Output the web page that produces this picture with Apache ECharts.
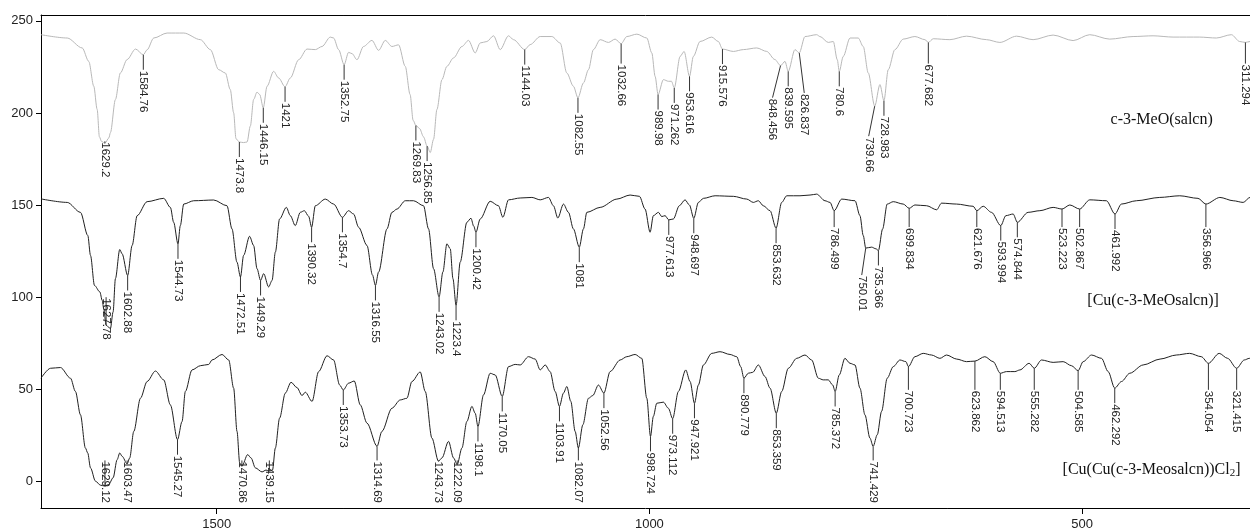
<!DOCTYPE html>
<html>
<head>
<meta charset="utf-8">
<title>IR spectra</title>
<script src="https://cdn.jsdelivr.net/npm/echarts@6/dist/echarts.min.js"></script>
<style>
  html, body { margin: 0; padding: 0; background: #ffffff; }
  #chart { width: 1250px; height: 531px; }
</style>
</head>
<body>
<div id="chart"></div>
<script>
// ---- spectra: [wavenumber (cm-1), signal] ----
const ligandSpectrum = [
  [1703,242.5],[1672.7,240.7],[1655.4,235.3],[1647.8,228],[1642,214.5],[1638.1,201.9],[1635.5,187],[1633,184.5],
  [1624.5,186.5],[1622.8,189.3],[1617,207.3],[1611.3,221.7],[1603.5,229],[1593.8,234.7],
  [1580.4,234.3],[1572.7,240.7],[1557.3,243.4],[1538,243.4],[1518.8,239.8],[1507.3,234.4],[1497.7,223.5],[1490,221.7],[1484.3,212.7],[1480.4,200.1],[1477.7,186],
  [1469,183.9],[1464.9,184.2],[1461.1,192.9],[1457.3,207.3],[1453.4,211.3],[1450.3,210],
  [1441.8,214.5],[1434.2,222.6],[1428.4,219],
  [1414.9,219],[1405.3,228.9],[1395.6,234.7],[1386,234.4],[1378.3,236.1],[1368.7,241.2],[1364.9,240.7],[1359.1,234.4],
  [1347.6,232.9],[1343.6,232.2],[1337.9,228.9],[1330.3,236.1],[1320.6,239.4],[1312.9,234],[1305.2,239.4],[1297.5,236.1],[1289.8,237],[1282.1,225.3],[1276.5,210],[1273,196],
  [1265.5,191.5],[1261,187],
  [1253.2,178.5],[1249.4,185.7],[1245.5,201.9],[1239.7,218.1],[1234,225.3],[1226.3,229.9],[1216.6,236.1],[1209,239.4],[1201.3,232.6],[1195.5,238],[1187.8,238.8],[1180.1,241.9],[1172.4,234.4],[1162.8,241.9],[1157,239.8],
  [1137.8,237.1],[1126.2,241.5],[1112.7,241.5],[1103.1,238],[1095.4,221.7],[1087.8,214.5],
  [1076.2,216.3],[1070.4,223.5],[1064.7,234.4],[1056.9,239.8],[1047.3,238.3],[1039.6,240.1],
  [1026.1,241.5],[1014.5,242.8],[1003,240.7],[997.2,232.6],[993.4,219.9],
  [983.8,218.1],[978.1,217.2],[974.5,217.2],
  [964.5,230.7],[959.9,233.4],
  [949.2,230.7],[941.5,238.8],[928,241.2],[920.3,238.8],
  [903,233.4],[891.5,234.4],[876,235.3],[864.4,233.4],[855,229],
  [843.3,228],
  [831.8,234.4],
  [820.2,241.5],[806.7,242.5],[802.9,241.5],[793.3,238.3],[787.5,238.8],[782.9,228.9],
  [776,230.7],[768.2,240.7],[758.7,240.7],[752.9,236.1],[747.1,221.7],
  [733.6,215.4],
  [724,223.5],[716.3,234.4],[706.7,240.1],[693.2,241.5],[681.6,239.8],
  [672,240.3],[652.8,239.8],[633.5,241.7],[610.4,239.8],[595,238.3],[575.8,241.7],[556.6,239.8],[533.5,242.3],[510.4,239.3],[491.2,242.5],[468.1,240.1],[441.1,241.5],[418,241.9],[394.9,241.2],[364.1,241.2],[344.9,240.7],[327.5,242.5],[317.9,238.8],
  [306,238.8],[300,239]
];
const ligandPeaks = [
  ['1629.2',183.5],['1584.76',231.6],['1473.8',184.2],['1446.15',202.8],['1421',214.2],['1352.75',226.2],
  ['1269.83',193.2],['1256.85',182],['1144.03',234.4],['1082.55',208.2],['1032.66',237.6],['989.98',210],
  ['971.262',213.6],['953.616',219.9],['915.576',234.7],['848.456',225.7],['839.595',222.6],['826.837',232.6],
  ['780.6',222.6],['739.66',203.7],['728.983',206.6],['677.682',238.3],['311.294',238.3]
];

const cuSpectrum = [
  [1703,153.3],[1672.7,151.4],[1657.4,146],[1648.9,133.4],[1645.8,122.6],[1641.2,106.3],[1635,102.8],[1632.3,98.2],[1630.5,93.7],
  [1622.8,82.9],[1619.7,91.9],[1617,110],[1612,125.8],[1609.3,123.5],
  [1597.7,128],[1591.9,144.2],[1580.4,151.8],[1561.2,153.6],[1553.5,148.7],[1549.7,140.6],
  [1542,138.8],[1538.1,150.5],[1526.6,152.3],[1503.5,152.7],[1488.1,149.6],[1482.3,137],[1476.6,119],
  [1468.9,122.6],[1462,133],[1457.3,128],[1453.4,115.4],
  [1445.7,112.7],[1440,105.5],[1436,109],[1432.2,124.4],[1427.3,142.4],[1419.5,148.7],[1414.9,144.2],[1409.2,138.8],[1403.4,146],[1398.7,146.9],[1393.8,143.9],
  [1386,149.6],[1374.5,153.2],[1364.9,150.5],
  [1347.6,146.9],[1341.8,145.1],[1336,137.9],[1326.3,128],[1320,112],
  [1312.9,113.6],[1303.2,137],[1297.5,146],[1291.7,147.8],[1282.1,152.3],[1272.5,152.3],[1261,149.6],[1255.2,137],[1249.4,115.4],
  [1238.6,113.6],[1234,128.9],[1230.1,126.2],[1227,110],
  [1218.6,119],[1210.9,140.6],[1206.2,142.8],[1203,138.5],
  [1195.5,142.4],[1184,152],[1174.4,149.6],[1169.3,143.3],[1162.8,152.8],[1149.3,153.8],[1135.8,154.1],[1126.2,152.8],[1116.6,154.1],[1110.9,149.6],[1105.8,142.9],[1099.3,150.5],[1093.5,146],[1087.8,137],
  [1076.2,137],[1072.3,146],[1056.9,148.7],[1037.6,153.2],[1022.3,155.4],[1011.5,154.7],[1005,147.8],[999.2,135.2],[995.4,144.2],[989.6,146],[985.7,143.7],[981.9,144.2],
  [972.3,142.4],[965.4,149.6],[958.8,152.8],[953.8,150],
  [943.4,151.4],[937.6,153.6],[924.1,155],[903,154.7],[887.5,153.2],[879.9,151.4],[874.1,152.3],[868.4,149.6],[860.6,146.9],
  [847.1,151.4],[841.3,155],[826,155],[814.4,155.4],[806.7,155.9],[797.1,152.3],[791.3,151.4],
  [777.8,153.2],[762.4,152.3],[756.7,144.2],[752.9,133.4],
  [743.2,127.1],[738.3,126.2],
  [730.5,137],[725.2,150.5],[718.2,151.8],[706.7,150.5],
  [693.2,150],[679.7,149.6],[668.1,147.4],[662.4,151],[645,150.5],[625.9,149.3],
  [614.3,149.3],[604.7,146],
  [588.1,144.2],[579.7,145.1],
  [562.4,146],[548.8,146.9],[533.5,148.7],
  [514.2,150],
  [491.1,152.8],[471.9,152.3],
  [454.6,150.5],[437.3,152.3],[410.3,154.1],[387.2,155],[366.1,153.6],
  [340.8,154.1],[325.4,152.3],[313.9,151.4],[306,154.1],[300,153.5]
];
const cuPeaks = [
  ['1627.78',84.7],['1602.88',111.7],['1544.73',128.9],['1472.51',110.9],['1449.29',109],['1390.32',137.9],
  ['1354.7',143.3],['1316.55',106.3],['1243.02',100.1],['1223.4',95.5],['1200.42',135.2],['1081',127.1],
  ['977.613',141.9],['948.697',142.8],['853.632',137.4],['786.499',146.9],['750.01',126.6],['735.366',125.3],
  ['699.834',148.2],['621.676',146.9],['593.994',138.8],['574.844',140.6],['523.223',147.8],['502.867',147.8],
  ['461.992',145.1],['356.966',150.5]
];

const cuClSpectrum = [
  [1703,55.9],[1692,61.3],[1680.5,61.7],[1668.9,55.9],[1663.2,48.7],[1657.4,36],[1651.7,18],[1649,15.3],[1645.8,7.2],[1640.1,0],[1634.3,-2.2],
  [1624.7,-1.8],[1619.7,1.8],[1615,11.7],[1612,15.3],[1609.3,13.5],
  [1600.5,12.6],[1595.8,27],[1588.1,45],[1580.4,54.1],[1570.8,59.8],[1561.2,55],[1553.5,41.4],
  [1540,32.4],[1536.2,48.7],[1528.5,60.4],[1518.8,62.7],[1509.2,63.4],[1505.4,65.8],[1493.8,68.8],[1486.1,65.8],[1480.4,50.5],[1476.5,27],[1473.4,9.9],
  [1464.2,14.4],[1460.3,12.6],[1455.3,7.2],[1447.6,5],[1443,6],
  [1435.5,6],[1432.2,18],[1427.3,34.2],[1420.7,47.8],[1414.1,53.7],[1407.2,50.8],[1401.4,46.5],[1397.6,48.3],[1389.8,43.3],[1382.2,59.5],[1372.5,68.1],[1364.9,65.8],[1357.9,52.2],
  [1347.6,53.2],[1341,54.4],[1334.1,41.4],[1326.3,31.5],
  [1309.1,27],[1297.5,39.6],[1287.9,44.1],[1280.2,45],[1274.4,54.1],[1264.8,59.3],[1259,48.7],[1251.3,23.4],
  [1239.7,12.6],[1232.1,21.6],[1226.3,12.6],
  [1216.6,18],[1210.9,32.4],[1205.1,40.6],[1201.3,36.9],
  [1191.7,46.8],[1184,58.6],[1178.2,57.7],
  [1162.8,62.2],[1155.1,63.4],[1149.3,63.1],[1139.7,67.6],[1132,66.3],[1126.2,60.4],[1120.4,63.1],[1114.7,59.5],[1108.9,48.7],
  [1099.3,47.8],[1095.4,51.4],[1090.8,43.3],[1085.8,27],
  [1076.9,30.6],[1070.4,45],[1065.4,46.5],[1058.9,52.2],
  [1045.4,59.5],[1033.8,65.8],[1026.1,67.6],[1016.5,68.8],[1008.8,66.7],[1003,45],
  [995.4,35.2],[991.5,42.3],[983.8,42.9],[978.1,39.6],
  [966.5,48.7],[958,60.4],[953,54.1],
  [943.4,52.2],[937.6,63.1],[928,69.4],[918.4,70.3],[906.8,68.8],[899.1,67.6],[894.5,62.2],
  [885.7,58.6],[880.6,59.1],[874.1,63.1],[866.4,56.8],[860.6,50.5],
  [847.1,48.7],[839.5,61.3],[829.8,66.7],[820.2,68.5],[812.5,65.8],[804.8,55.9],[799.1,55],[793.3,55],[788.2,52.2],
  [780.6,57.7],[774.1,66.7],[768.2,64],[762.4,63.1],[756.7,50.5],[750.9,36],[745.2,23.4],
  [736.7,25.2],[731.7,37.9],[725.2,55.9],[718.2,62.2],[710.5,65.8],[703.6,64.9],
  [693.2,67.6],[683.6,69.4],[673.9,68.5],[664.3,66.7],[656.6,68.5],[645,66.3],[633.5,64.9],
  [612.4,67.6],[602.8,64.9],
  [587.3,59.5],[577.7,59.5],[571.9,60.4],[561.2,64],
  [546.9,65.8],[533.5,64.5],[521.9,64.9],[512.3,62.7],
  [498.8,64.9],[489.1,68.5],[477.6,66.7],[469.9,59.5],
  [454.5,54.1],[444.9,58.6],[429.5,63.1],[409.9,66.3],[391.2,68.5],[375.8,69.4],[362.3,67.6],
  [341.6,69.4],[331.9,66.7],
  [312.6,65.8],[306.8,66.7],[300,66]
];
const cuClPeaks = [
  ['1629.12',-2.7],['1603.47',9.4],['1545.27',22.5],['1470.86',8.1],['1439.15',5.5],['1353.73',49.5],
  ['1314.69',18.9],['1243.73',10.8],['1222.09',9],['1198.1',29.7],['1170.05',46],['1103.91',40.6],
  ['1082.07',18],['1052.56',47.8],['998.724',24.3],['973.112',33.9],['947.921',42.3],['890.779',55.9],
  ['853.359',36.9],['785.372',48.7],['741.429',18.9],['700.723',62.2],['623.862',65.2],['594.513',58.6],
  ['555.282',61.3],['504.585',60],['462.292',50.5],['354.054',64],['321.415',61.3]
];

// ---- axes ----
const xTicks = [1500, 1000, 500];
const yTicks = [0, 50, 100, 150, 200, 250];
const sampleNames = ['c-3-MeO(salcn)', '[Cu(c-3-MeOsalcn)]', '[Cu(Cu(c-3-Meosalcn))Cl{sub|2}]'];

// ---- drawing ----
const LABEL_FONT = '11.5px "Liberation Sans", Arial, sans-serif';
const measureCtx = document.createElement('canvas').getContext('2d');
measureCtx.font = LABEL_FONT;
const textLen = t => measureCtx.measureText(t).width;

// per-trace layout of the peak tags
const traces = [
  { spectrum: ligandSpectrum, peaks: ligandPeaks, color: '#b8b8b8', tagLevel: 226.8,
    shift: { '1629.2': [0, -17], '848.456': [-8, 17], '826.837': [5, 25], '739.66': [-6, 15] },
    nameAt: [349, 196.4] },
  { spectrum: cuSpectrum, peaks: cuPeaks, color: '#202020', tagLevel: 138,
    shift: { '1627.78': [0, -43], '750.01': [-4, 12] },
    nameAt: [342, 98.2] },
  { spectrum: cuClSpectrum, peaks: cuClPeaks, color: '#202020', tagLevel: 49.6,
    shift: {},
    nameAt: [317, 6.3] }
];

const TAG_GAP = 15;

function mergedData(t) {
  return t.spectrum
    .concat(t.peaks.map(p => [parseFloat(p[0]), p[1]]))
    .sort((a, b) => b[0] - a[0]);
}

function tagRenderer(t) {
  return function (params, api) {
    const [lab, val] = t.peaks[params.dataIndex];
    const wn = parseFloat(lab);
    const p = api.coord([wn, val]);
    const level = api.coord([wn, t.tagLevel])[1];
    const cs = params.coordSys;
    const plotBottom = cs.y + cs.height;
    const s = t.shift[lab] || [0, 0];
    let endY = Math.max(p[1] + TAG_GAP, level) + s[1];
    endY = Math.min(endY, plotBottom - textLen(lab) - 6);
    const endX = p[0] + s[0];
    return {
      type: 'group',
      children: [
        { type: 'line', shape: { x1: p[0], y1: p[1], x2: endX, y2: endY },
          style: { stroke: '#333', lineWidth: 1 } },
        { type: 'text', x: endX, y: endY + 1, rotation: -Math.PI / 2,
          style: { text: lab, font: LABEL_FONT, fill: '#222', align: 'left', verticalAlign: 'middle' } }
      ]
    };
  };
}

const series = [];
traces.forEach((t, i) => {
  series.push({
    type: 'line', name: 'trace' + i, data: mergedData(t),
    showSymbol: false, smooth: 0.3, smoothMonotone: 'x',
    lineStyle: { color: t.color, width: 1 }, z: 2, silent: true
  });
  series.push({
    type: 'custom', coordinateSystem: 'cartesian2d',
    data: t.peaks.map(p => [parseFloat(p[0]), p[1]]),
    renderItem: tagRenderer(t), z: 3, silent: true
  });
});

const axisFont = { fontFamily: '"Liberation Sans", Arial, sans-serif', fontSize: 13, color: '#222' };
const plainNumber = v => String(v);

const chart = echarts.init(document.getElementById('chart'), null, { renderer: 'canvas' });
chart.setOption({
  animation: false,
  backgroundColor: '#ffffff',
  grid: { left: 41, right: 0, top: 15, bottom: 21 },
  xAxis: [
    {
      type: 'value', inverse: true, min: 306, max: 1703, position: 'bottom',
      axisLine: { show: true, onZero: false, lineStyle: { color: '#000', width: 1 } },
      axisTick: { show: true, length: 6, customValues: xTicks, lineStyle: { color: '#000' } },
      axisLabel: Object.assign({ margin: 10, customValues: xTicks, formatter: plainNumber }, axisFont),
      splitLine: { show: false }
    },
    {
      type: 'value', inverse: true, min: 306, max: 1703, position: 'top',
      axisLine: { show: true, onZero: false, lineStyle: { color: '#000', width: 1 } },
      axisTick: { show: false }, axisLabel: { show: false }, splitLine: { show: false }
    }
  ],
  yAxis: {
    type: 'value', min: -14.6, max: 253.2, position: 'left',
    axisLine: { show: true, onZero: false, lineStyle: { color: '#000', width: 1 } },
    axisTick: { show: true, length: 5, customValues: yTicks, lineStyle: { color: '#000' } },
    axisLabel: Object.assign({ margin: 8, customValues: yTicks, formatter: plainNumber }, axisFont),
    splitLine: { show: false }
  },
  series: series
});

// sample names, anchored in data space at their right-hand edge
chart.setOption({
  graphic: traces.map((t, i) => {
    const pt = chart.convertToPixel({ gridIndex: 0 }, t.nameAt);
    return {
      type: 'text', x: pt[0], y: pt[1], z: 10, silent: true,
      style: {
        text: sampleNames[i], align: 'right', verticalAlign: 'middle',
        font: '16px "Liberation Serif", "Times New Roman", serif', fill: '#111',
        rich: { sub: { font: '11px "Liberation Serif", "Times New Roman", serif', fill: '#111', verticalAlign: 'bottom', padding: [8, 0, 0, 0] } }
      }
    };
  })
});
</script>
</body>
</html>
